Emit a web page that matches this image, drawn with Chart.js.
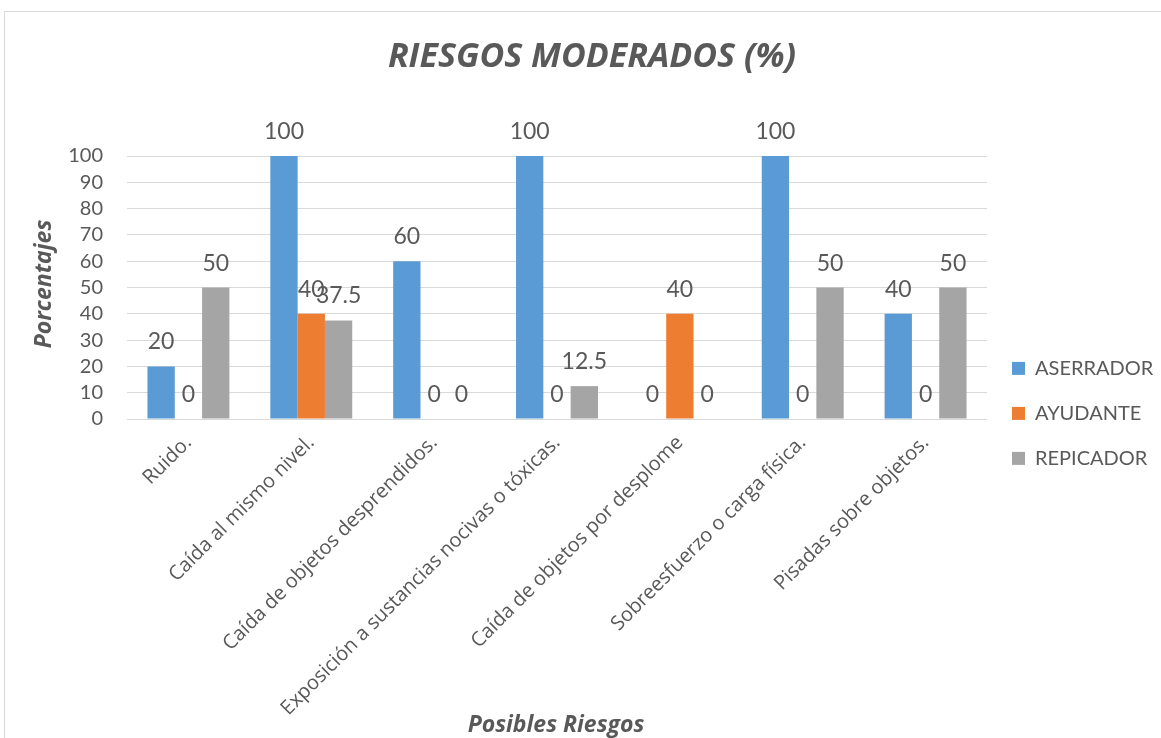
<!DOCTYPE html>
<html><head><meta charset="utf-8">
<script src="https://cdn.jsdelivr.net/npm/chart.js@4.4.0/dist/chart.umd.min.js"></script>
<style>
html,body{margin:0;padding:0;background:#fff;overflow:hidden;width:1161px;height:738px}
#frame{position:absolute;left:4px;top:11px;width:1200px;height:800px;border:1px solid #d9d9d9;box-sizing:border-box}
#wrap{position:absolute;left:0;top:0;width:1161px;height:738px}
</style></head><body>
<div id="frame"></div>
<div id="wrap"><canvas id="c" width="1161" height="738"></canvas></div>
<script>
const chartTitle = 'RIESGOS MODERADOS (%)';
const xAxisTitle = 'Posibles Riesgos';
const yAxisTitle = 'Porcentajes';
const categories = [
  'Ruido.',
  'Caída al mismo nivel.',
  'Caída de objetos desprendidos.',
  'Exposición a sustancias nocivas o tóxicas.',
  'Caída de objetos por desplome',
  'Sobreesfuerzo o carga física.',
  'Pisadas sobre objetos.'
];
const seriesNames = ['ASERRADOR', 'AYUDANTE', 'REPICADOR'];
const aserrador = [20, 100, 60, 100, 0, 100, 40];
const ayudante = [0, 40, 0, 0, 40, 0, 0];
const repicador = [50, 37.5, 0, 12.5, 0, 50, 50];
const yMin = 0, yMax = 100, yStep = 10;

const TEXT = '#595959';
const colors = ['#5B9BD5', '#ED7D31', '#A5A5A5'];

const dataLabels = {
  id: 'dataLabels',
  afterDatasetsDraw(chart) {
    const ctx = chart.ctx;
    ctx.save();
    ctx.font = '23px Lato';
    ctx.fillStyle = TEXT;
    ctx.textAlign = 'center';
    ctx.textBaseline = 'alphabetic';
    chart.data.datasets.forEach((ds, i) => {
      const meta = chart.getDatasetMeta(i);
      meta.data.forEach((bar, j) => {
        ctx.fillText(String(ds.data[j]), bar.x, bar.y - 17);
      });
    });
    ctx.restore();
  }
};

const titles = {
  id: 'titles',
  afterDraw(chart) {
    const ctx = chart.ctx;
    ctx.save();
    ctx.fillStyle = TEXT;
    ctx.textAlign = 'center';
    ctx.textBaseline = 'middle';
    ctx.font = 'italic bold 34px "Open Sans"';
    ctx.fillText(chartTitle, 592, 57);
    ctx.font = 'italic bold 23px "Open Sans"';
    ctx.fillText(xAxisTitle, 556, 725);
    ctx.translate(44, 284);
    ctx.rotate(-Math.PI / 2);
    ctx.fillText(yAxisTitle, 0, 0);
    ctx.restore();
  }
};

function build() {
  new Chart(document.getElementById('c'), {
    type: 'bar',
    data: {
      labels: categories,
      datasets: [
        { label: seriesNames[0], data: aserrador, backgroundColor: colors[0] },
        { label: seriesNames[1], data: ayudante, backgroundColor: colors[1] },
        { label: seriesNames[2], data: repicador, backgroundColor: colors[2] }
      ]
    },
    options: {
      responsive: false,
      animation: false,
      devicePixelRatio: 1,
      layout: { padding: { left: 0, right: 0, top: 156, bottom: 0 } },
      datasets: { bar: { categoryPercentage: 0.667, barPercentage: 1.0 } },
      plugins: {
        tooltip: { enabled: false },
        title: { display: false },
        legend: {
          position: 'right',
          align: 'start',
          maxWidth: 174,
          title: { display: true, text: '', padding: { top: 163, bottom: 0 } },
          labels: {
            boxWidth: 13,
            boxHeight: 13,
            padding: 25,
            color: TEXT,
            font: { family: 'Lato', size: 20 }
          }
        }
      },
      scales: {
        x: {
          grid: { display: false },
          border: { display: false },
          ticks: {
            color: TEXT,
            font: { family: 'Open Sans', size: 20 },
            minRotation: 45,
            maxRotation: 45,
            padding: 4
          },
          afterFit(scale) { scale.height = 319; }
        },
        y: {
          min: yMin,
          max: yMax,
          border: { display: false },
          grid: { color: '#D9D9D9', lineWidth: 1, drawTicks: false },
          ticks: {
            stepSize: yStep,
            autoSkip: false,
            color: TEXT,
            font: { family: 'Lato', size: 20 },
            padding: 24
          },
          afterFit(scale) { scale.width = 127; }
        }
      }
    },
    plugins: [dataLabels, titles]
  });
}

Promise.all([
  document.fonts.load('20px "Open Sans"'),
  document.fonts.load('italic bold 23px "Open Sans"'),
  document.fonts.load('20px Lato')
]).then(build, build);
</script>
</body></html>
